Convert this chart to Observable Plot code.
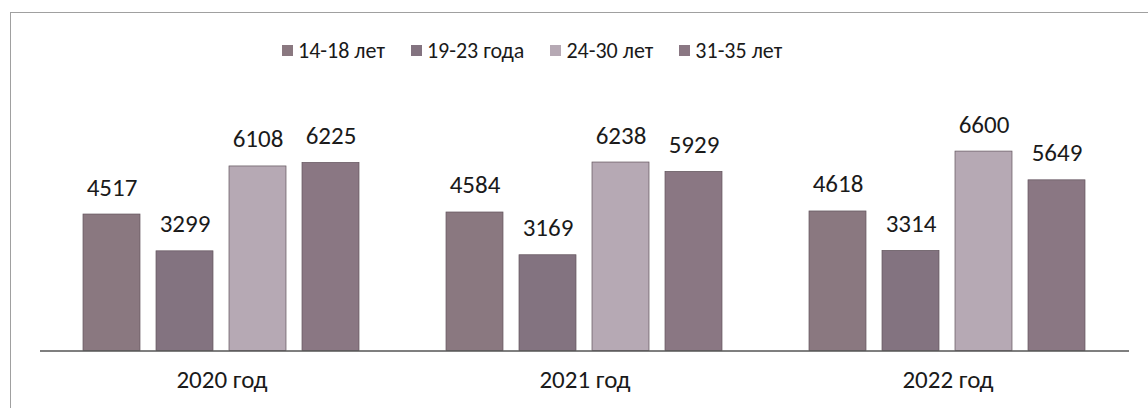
<!DOCTYPE html>
<html>
<head>
<meta charset="utf-8">
<script src="https://cdn.jsdelivr.net/npm/d3@7"></script>
<script src="https://cdn.jsdelivr.net/npm/@observablehq/plot@0.6"></script>
<style>
  html, body { margin: 0; padding: 0; background: #fff; }
  #wrap { position: relative; width: 1148px; height: 408px; overflow: hidden; font-family: Carlito, Calibri, "Open Sans", sans-serif; }
  #frame { position: absolute; left: 10px; top: 12px; right: 0; bottom: 0; border-top: 1px solid #a0a0a0; border-left: 1px solid #a0a0a0; }
  #chart { position: absolute; left: 0; top: 0; }
  #legend { position: absolute; left: 282px; top: 37px; display: flex; align-items: center; gap: 26px; font-size: 22px; color: #1a1a1a; }
  .item { display: flex; align-items: center; gap: 5px; white-space: nowrap; }
  .sw { width: 11px; height: 11px; display: inline-block; }
</style>
</head>
<body>
<div id="wrap">
  <div id="frame"></div>
  <div id="chart"></div>
  <div id="legend"></div>
</div>
<script>
const years = ["2020 год", "2021 год", "2022 год"];
const groups = ["14-18 лет", "19-23 года", "24-30 лет", "31-35 лет"];
const v1418 = [4517, 4584, 4618];
const v1923 = [3299, 3169, 3314];
const v2430 = [6108, 6238, 6600];
const v3135 = [6225, 5929, 5649];
const colors = ["#8a7880", "#837380", "#b6a9b4", "#8a7783"];

const series = [v1418, v1923, v2430, v3135];
const data = [];
years.forEach((y, i) => groups.forEach((g, j) => data.push({year: y, group: g, value: series[j][i]})));

const font = 'Carlito, Calibri, "Open Sans", sans-serif';
const plot = Plot.plot({
  width: 1148,
  height: 408,
  marginLeft: 39,
  marginRight: 19,
  marginTop: 139,
  marginBottom: 57.5,
  style: {fontFamily: font, background: "transparent", color: "#1a1a1a"},
  fx: {domain: years, padding: 0, label: null},
  x: {domain: groups, paddingInner: 0.215, paddingOuter: 0.59, axis: null},
  y: {domain: [0, 7000], axis: null},
  color: {domain: groups, range: colors},
  marks: [
    Plot.barY(data, {fx: "year", x: "group", y: "value", fill: "group", stroke: "#62545c", strokeWidth: 0.7}),
    Plot.text(data, {fx: "year", x: "group", y: "value", text: d => String(d.value), dy: -27, fontSize: 25, fill: "#1a1a1a"}),
    Plot.ruleY([0], {stroke: "#555", strokeWidth: 1.3}),
    Plot.axisFx({anchor: "bottom", tickSize: 0, tickPadding: 19, fontSize: 25, label: null})
  ]
});
document.getElementById("chart").appendChild(plot);

const leg = document.getElementById("legend");
groups.forEach((g, i) => {
  const it = document.createElement("div");
  it.className = "item";
  const sw = document.createElement("span");
  sw.className = "sw";
  sw.style.background = colors[i];
  const t = document.createElement("span");
  t.textContent = g;
  it.appendChild(sw);
  it.appendChild(t);
  leg.appendChild(it);
});
</script>
</body>
</html>
